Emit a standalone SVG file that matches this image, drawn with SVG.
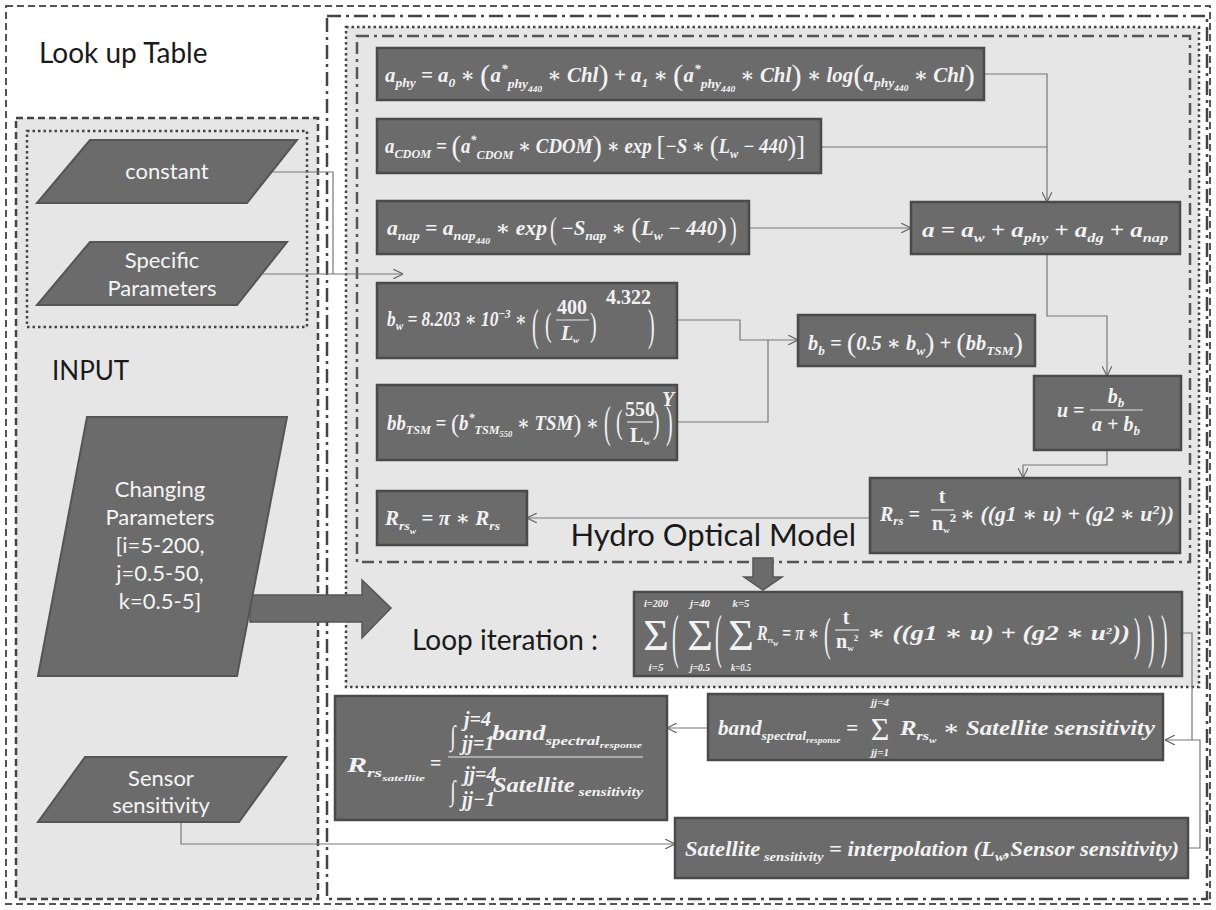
<svg xmlns="http://www.w3.org/2000/svg" width="1216" height="910" viewBox="0 0 1216 910">
<defs>
<marker id="ah" viewBox="0 0 10 10" refX="10" refY="5" markerWidth="10" markerHeight="10" markerUnits="userSpaceOnUse" orient="auto">
<path d="M0,0 L10,5 L0,10" fill="none" stroke="#6a6a6a" stroke-width="1.2"/>
</marker>
</defs>
<style>
.bx{fill:#6b6b6b;stroke:#4a4a4a;stroke-width:2.5}
.pg{fill:#6b6b6b;stroke:#555;stroke-width:2}
.lb{font-family:Lato,"Open Sans",sans-serif;fill:#1a1a1a}
.wt{font-family:Lato,"Open Sans",sans-serif;fill:#f5f5f5;font-size:22px;text-anchor:middle}
.f{font-family:"Liberation Serif","DejaVu Serif",serif;font-style:italic;font-weight:bold;fill:#f2f2f2;font-size:20px}
.s{font-size:13px}
.ss{font-size:9px}
.n{font-style:normal}
.p{font-style:normal;font-weight:normal}
.c{fill:none;stroke:#777;stroke-width:1.2}
.cm{fill:none;stroke:#777;stroke-width:1.2;marker-end:url(#ah)}
.fl{stroke:#e8e8e8;stroke-width:1.2}
.ta{fill:#6b6b6b;stroke:#555;stroke-width:1.5}
.sg{font-family:"Liberation Serif","DejaVu Serif",serif;font-style:normal;font-weight:normal;fill:#f2f2f2;text-anchor:middle}
.lim{font-family:"Liberation Serif","DejaVu Serif",serif;font-style:italic;font-weight:bold;fill:#f2f2f2;font-size:11px;text-anchor:middle}
</style>

<g id="frames">
<rect x="6" y="6" width="1204" height="898" fill="#fff" stroke="#555" stroke-width="2" stroke-dasharray="7 4"/>
<rect x="16" y="118" width="302" height="781" fill="#e6e6e6" stroke="#444" stroke-width="2.5" stroke-dasharray="7 4"/>
<rect x="27" y="131" width="280" height="196" fill="none" stroke="#444" stroke-width="2.5" stroke-dasharray="2.5 3"/>
<rect x="327" y="16" width="880" height="883" fill="#fff" stroke="#444" stroke-width="2.5" stroke-dasharray="14 5 3 5"/>
<rect x="346" y="27" width="853" height="660" fill="#e6e6e6" stroke="#444" stroke-width="2.5" stroke-dasharray="2.5 3"/>
<rect x="357" y="36" width="833" height="526" fill="none" stroke="#555" stroke-width="2.5" stroke-dasharray="12 5 3 5"/>
</g>

<g id="labels">
<text class="lb" x="39" y="63" font-size="28">Look up Table</text>
<text class="lb" x="52" y="380" font-size="26">INPUT</text>
<text class="lb" x="856" y="546" font-size="31" text-anchor="end">Hydro Optical Model</text>
<text class="lb" x="412" y="650" font-size="28">Loop iteration :</text>
</g>

<g id="connectors">
<path class="c" d="M273,172 H333 V274"/>
<path class="cm" d="M263,274 H403"/>
<path class="cm" d="M984,74 H1047 V202"/>
<path class="c" d="M821,147 H1047"/>
<path class="cm" d="M749,228 H911"/>
<path class="cm" d="M1047,254 V316 H1107 V376"/>
<path class="cm" d="M677,320 H740 V340 H798"/>
<path class="c" d="M677,422 H768 V340"/>
<path class="cm" d="M1107,450 V465 H1023 V478"/>
<path class="cm" d="M870,518 H527"/>
<path class="cm" d="M1182,633 H1192 V740 H1165"/>
<path class="c" d="M1188,848 H1200 V740 H1192"/>
<path class="cm" d="M708,728 H667"/>
<path class="cm" d="M181,822 V844 H675"/>
<polygon class="ta" points="250,595 362,595 362,580 391,608 362,638 362,622 250,622"/>
<polygon class="ta" points="753,558 773,558 773,577 782,577 763,590 744,577 753,577"/>
</g>

<g id="n-constant">
<polygon class="pg" points="90,140 297,140 247,203 37,203"/>
<text class="wt" x="167" y="179">constant</text>
</g>
<g id="n-specific">
<polygon class="pg" points="90,242 287,242 237,305 37,305"/>
<text class="wt" x="162" y="268">Specific</text>
<text class="wt" x="162" y="296">Parameters</text>
</g>
<g id="n-changing">
<polygon class="pg" points="87,417 287,417 237,676 38,676"/>
<text class="wt" x="160" y="497">Changing</text>
<text class="wt" x="160" y="525">Parameters</text>
<text class="wt" x="160" y="553">[i=5-200,</text>
<text class="wt" x="160" y="581">j=0.5-50,</text>
<text class="wt" x="160" y="609">k=0.5-5]</text>
</g>
<g id="n-sensor">
<polygon class="pg" points="85,757 286,757 239,822 38,822"/>
<text class="wt" x="161" y="786">Sensor</text>
<text class="wt" x="161" y="813">sensitivity</text>
</g>

<g id="n-aphy">
<rect class="bx" x="377" y="48" width="607" height="52"/>
<text class="f" x="385" y="82" font-size="21" textLength="590" lengthAdjust="spacingAndGlyphs">a<tspan class="s" dy="5">phy</tspan><tspan dy="-5"> = a</tspan><tspan class="s" dy="5">0</tspan><tspan dy="-5"> ∗ </tspan><tspan class="p" font-size="30" dy="3">(</tspan><tspan dy="-3">a</tspan><tspan class="s" dy="-9">*</tspan><tspan class="s" dy="15">phy</tspan><tspan class="ss" dy="4">440</tspan><tspan dy="-10"> ∗ Chl</tspan><tspan class="p" font-size="30" dy="3">)</tspan><tspan dy="-3"> + a</tspan><tspan class="s" dy="5">1</tspan><tspan dy="-5"> ∗ </tspan><tspan class="p" font-size="30" dy="3">(</tspan><tspan dy="-3">a</tspan><tspan class="s" dy="-9">*</tspan><tspan class="s" dy="15">phy</tspan><tspan class="ss" dy="4">440</tspan><tspan dy="-10"> ∗ Chl</tspan><tspan class="p" font-size="30" dy="3">)</tspan><tspan dy="-3"> ∗ log</tspan><tspan class="p" font-size="30" dy="3">(</tspan><tspan dy="-3">a</tspan><tspan class="s" dy="5">phy</tspan><tspan class="ss" dy="4">440</tspan><tspan dy="-9"> ∗ Chl</tspan><tspan class="p" font-size="30" dy="3">)</tspan></text>
</g>

<g id="n-acdom">
<rect class="bx" x="377" y="119" width="444" height="54"/>
<text class="f" x="385" y="153" font-size="21" textLength="420" lengthAdjust="spacingAndGlyphs">a<tspan class="s" dy="5">CDOM</tspan><tspan dy="-5"> = </tspan><tspan class="p" font-size="30" dy="3">(</tspan><tspan dy="-3">a</tspan><tspan class="s" dy="-9">*</tspan><tspan class="s" dy="15">CDOM</tspan><tspan dy="-6"> ∗ CDOM</tspan><tspan class="p" font-size="30" dy="3">)</tspan><tspan dy="-3"> ∗ exp </tspan><tspan class="p" font-size="28" dy="2">[</tspan><tspan dy="-2">−S ∗ </tspan><tspan class="p" font-size="28" dy="2">(</tspan><tspan dy="-2">L</tspan><tspan class="s" dy="5">w</tspan><tspan dy="-5"> − 440</tspan><tspan class="p" font-size="28" dy="2">)]</tspan></text>
</g>

<g id="n-anap">
<rect class="bx" x="377" y="201" width="372" height="53"/>
<text class="f" x="387" y="235" font-size="21" textLength="160" lengthAdjust="spacingAndGlyphs">a<tspan class="s" dy="5">nap</tspan><tspan dy="-5"> = a</tspan><tspan class="s" dy="5">nap</tspan><tspan class="ss" dy="4">440</tspan><tspan dy="-9"> ∗ exp</tspan></text>
<text class="f p" font-size="28" transform="translate(550,239) scale(1,1.6)">(</text>
<text class="f" x="561" y="235" font-size="21" textLength="166" lengthAdjust="spacingAndGlyphs">−S<tspan class="s" dy="5">nap</tspan><tspan dy="-5"> ∗ </tspan><tspan class="p" font-size="28" dy="2">(</tspan><tspan dy="-2">L</tspan><tspan class="s" dy="5">w</tspan><tspan dy="-5"> − 440</tspan><tspan class="p" font-size="28" dy="2">)</tspan></text>
<text class="f p" font-size="28" transform="translate(730,239) scale(1,1.6)">)</text>
</g>

<g id="n-bw">
<rect class="bx" x="377" y="283" width="300" height="75"/>
<text class="f" x="387" y="326" font-size="17" textLength="140" lengthAdjust="spacingAndGlyphs">b<tspan class="s" dy="4">w</tspan><tspan dy="-4"> = 8.203 ∗ 10</tspan><tspan class="s" dy="-8">−3</tspan><tspan dy="8"> ∗</tspan></text>
<text class="f p" font-size="28" transform="translate(532,340) scale(1,2.17)">(</text>
<text class="f p" font-size="28" transform="translate(545,336) scale(1,1.7)">(</text>
<text class="f n" x="572" y="314" font-size="15" text-anchor="middle">400</text>
<line class="fl" x1="556" y1="320" x2="589" y2="320"/>
<text class="f" x="570" y="340" font-size="16" text-anchor="middle">L<tspan class="ss" dy="3">w</tspan></text>
<text class="f p" font-size="28" transform="translate(590,336) scale(1,1.7)">)</text>
<text class="f n" x="606" y="304" font-size="11">4.322</text>
<text class="f p" font-size="28" transform="translate(648,340) scale(1,2.17)">)</text>
</g>

<g id="n-bbtsm">
<rect class="bx" x="377" y="385" width="300" height="75"/>
<text class="f" x="387" y="430" font-size="17" textLength="212" lengthAdjust="spacingAndGlyphs">bb<tspan class="s" dy="4">TSM</tspan><tspan dy="-4"> = </tspan><tspan class="p" font-size="26" dy="2">(</tspan><tspan dy="-2">b</tspan><tspan class="s" dy="-8">*</tspan><tspan class="s" dy="12">TSM</tspan><tspan class="ss" dy="3">550</tspan><tspan dy="-7"> ∗ TSM</tspan><tspan class="p" font-size="26" dy="2">)</tspan><tspan dy="-2"> ∗</tspan></text>
<text class="f p" font-size="28" transform="translate(604,437) scale(1,2.17)">(</text>
<text class="f p" font-size="28" transform="translate(616,433) scale(1,1.7)">(</text>
<text class="f n" x="640" y="416" font-size="15" text-anchor="middle">550</text>
<line class="fl" x1="627" y1="422" x2="653" y2="422"/>
<text class="f n" x="640" y="442" font-size="16" text-anchor="middle">L<tspan class="ss" dy="3">w</tspan></text>
<text class="f p" font-size="28" transform="translate(653,433) scale(1,1.7)">)</text>
<text class="f" x="662" y="406" font-size="11">Y</text>
<text class="f p" font-size="28" transform="translate(666,437) scale(1,2.17)">)</text>
</g>

<g id="n-rrsw">
<rect class="bx" x="377" y="491" width="150" height="54"/>
<text class="f" x="385" y="525" font-size="22" textLength="115" lengthAdjust="spacingAndGlyphs">R<tspan class="s" dy="5">rs</tspan><tspan class="ss" dy="4">w</tspan><tspan dy="-9"> = π ∗ R</tspan><tspan class="s" dy="5">rs</tspan></text>
</g>

<g id="n-a">
<rect class="bx" x="911" y="202" width="269" height="52"/>
<text class="f" x="922" y="237" font-size="24" textLength="246" lengthAdjust="spacingAndGlyphs">a = a<tspan class="s" dy="5">w</tspan><tspan dy="-5"> + a</tspan><tspan class="s" dy="5">phy</tspan><tspan dy="-5"> + a</tspan><tspan class="s" dy="5">dg</tspan><tspan dy="-5"> + a</tspan><tspan class="s" dy="5">nap</tspan></text>
</g>

<g id="n-bb">
<rect class="bx" x="798" y="315" width="237" height="51"/>
<text class="f" x="808" y="350" font-size="22" textLength="215" lengthAdjust="spacingAndGlyphs">b<tspan class="s" dy="5">b</tspan><tspan dy="-5"> = </tspan><tspan class="p" font-size="28" dy="2">(</tspan><tspan dy="-2">0.5 ∗ b</tspan><tspan class="s" dy="5">w</tspan><tspan class="p" font-size="28" dy="-3">)</tspan><tspan dy="-2"> + </tspan><tspan class="p" font-size="28" dy="2">(</tspan><tspan dy="-2">bb</tspan><tspan class="s" dy="5">TSM</tspan><tspan class="p" font-size="28" dy="-3">)</tspan></text>
</g>

<g id="n-u">
<rect class="bx" x="1034" y="376" width="147" height="74"/>
<text class="f" x="1057" y="417" font-size="18">u =</text>
<text class="f" x="1116" y="403" font-size="18" text-anchor="middle">b<tspan class="s" dy="4">b</tspan></text>
<line class="fl" x1="1090" y1="410" x2="1143" y2="410"/>
<text class="f" x="1116" y="431" font-size="18" text-anchor="middle">a + b<tspan class="s" dy="4">b</tspan></text>
</g>

<g id="n-rrs">
<rect class="bx" x="870" y="478" width="310" height="75"/>
<text class="f" x="880" y="521" font-size="18">R<tspan class="s" dy="4">rs</tspan><tspan dy="-4"> =</tspan></text>
<text class="f n" x="942" y="503" font-size="16" text-anchor="middle">t</text>
<line class="fl" x1="931" y1="510" x2="954" y2="510"/>
<text class="f n" x="932" y="530" font-size="16">n<tspan class="ss" dy="3">w</tspan><tspan class="s" dy="-11">2</tspan></text>
<text class="f" x="960" y="521" font-size="18" textLength="214" lengthAdjust="spacingAndGlyphs">∗ ((g1 ∗ u) + (g2 ∗ u<tspan class="s" dy="-7">2</tspan><tspan dy="7">))</tspan></text>
</g>

<g id="n-loop">
<rect class="bx" x="634" y="592" width="548" height="84"/>
<text class="lim" x="656" y="607" textLength="24" lengthAdjust="spacingAndGlyphs">i=200</text>
<text class="sg" x="656" y="650" font-size="44">Σ</text>
<text class="lim" x="656" y="671" textLength="15" lengthAdjust="spacingAndGlyphs">i=5</text>
<text class="f p" font-size="28" transform="translate(672,656) scale(1,2.95)">(</text>
<text class="lim" x="700" y="607" textLength="20" lengthAdjust="spacingAndGlyphs">j=40</text>
<text class="sg" x="700" y="650" font-size="44">Σ</text>
<text class="lim" x="700" y="671" textLength="20" lengthAdjust="spacingAndGlyphs">j=0.5</text>
<text class="f p" font-size="28" transform="translate(715,656) scale(1,2.95)">(</text>
<text class="lim" x="741" y="607" textLength="17" lengthAdjust="spacingAndGlyphs">k=5</text>
<text class="sg" x="741" y="650" font-size="44">Σ</text>
<text class="lim" x="741" y="671" textLength="20" lengthAdjust="spacingAndGlyphs">k=0.5</text>
<text class="f" x="757" y="640" font-size="15" textLength="62" lengthAdjust="spacingAndGlyphs">R<tspan class="ss" dy="3">rs</tspan><tspan class="ss" dy="3">w</tspan><tspan dy="-6"> = π ∗</tspan></text>
<text class="f p" font-size="28" transform="translate(824,650) scale(1,2.33)">(</text>
<text class="f n" x="846" y="624" font-size="15" text-anchor="middle">t</text>
<line class="fl" x1="835" y1="630" x2="859" y2="630"/>
<text class="f n" x="836" y="648" font-size="15">n<tspan class="ss" dy="3">w</tspan><tspan class="ss" dy="-10">2</tspan></text>
<text class="f" x="867" y="640" font-size="16" textLength="263" lengthAdjust="spacingAndGlyphs">∗ ((g1 ∗ u) + (g2 ∗ u<tspan class="ss" dy="-6">2</tspan><tspan dy="6">))</tspan></text>
<text class="f p" font-size="28" transform="translate(1134,650) scale(1,2.33)">)</text>
<text class="f p" font-size="28" transform="translate(1148,656) scale(1,2.95)">)</text>
<text class="f p" font-size="28" transform="translate(1161,656) scale(1,2.95)">)</text>
</g>

<g id="n-rrssat">
<rect class="bx" x="335" y="696" width="332" height="124"/>
<text class="f" x="347" y="772" font-size="22" textLength="78" lengthAdjust="spacingAndGlyphs">R<tspan class="s" dy="5">rs</tspan><tspan class="ss" dy="4">satellite</tspan></text>
<text class="f n" x="430" y="770" font-size="22">=</text>
<line class="fl" x1="448" y1="757" x2="643" y2="757"/>
<text class="f" font-size="24" transform="translate(450,745) scale(1,1.4)">∫</text>
<text class="f" x="464" y="726" font-size="10">j=4</text>
<text class="f" x="462" y="750" font-size="12">jj=1</text>
<text class="f" x="492" y="740" font-size="22" textLength="150" lengthAdjust="spacingAndGlyphs">band<tspan class="s" dy="5">spectral</tspan><tspan class="ss" dy="3">response</tspan></text>
<text class="f" font-size="24" transform="translate(450,800) scale(1,1.4)">∫</text>
<text class="f" x="464" y="781" font-size="10">jj=4</text>
<text class="f" x="462" y="806" font-size="12">jj−1</text>
<text class="f" x="493" y="792" font-size="22" textLength="150" lengthAdjust="spacingAndGlyphs">Satellite<tspan class="s" dy="4"> sensitivity</tspan></text>
</g>

<g id="n-band">
<rect class="bx" x="708" y="694" width="455" height="66"/>
<text class="f" x="718" y="735" font-size="20" textLength="140" lengthAdjust="spacingAndGlyphs">band<tspan class="s" dy="5">spectral</tspan><tspan class="ss" dy="3">response</tspan><tspan dy="-8"> =</tspan></text>
<text class="lim" x="880" y="706" textLength="18" lengthAdjust="spacingAndGlyphs">jj=4</text>
<text class="sg" x="880" y="740" font-size="32">Σ</text>
<text class="lim" x="880" y="756" textLength="18" lengthAdjust="spacingAndGlyphs">jj=1</text>
<text class="f" x="900" y="735" font-size="20" textLength="255" lengthAdjust="spacingAndGlyphs">R<tspan class="s" dy="5">rs</tspan><tspan class="ss" dy="3">w</tspan><tspan dy="-8"> ∗ Satellite sensitivity</tspan></text>
</g>

<g id="n-satsens">
<rect class="bx" x="675" y="818" width="513" height="60"/>
<text class="f" x="685" y="856" font-size="24" textLength="494" lengthAdjust="spacingAndGlyphs">Satellite<tspan class="s" dy="5"> sensitivity</tspan><tspan dy="-5"> = interpolation (L</tspan><tspan class="s" dy="5">w</tspan><tspan dy="-5">,Sensor sensitivity)</tspan></text>
</g>
</svg>
